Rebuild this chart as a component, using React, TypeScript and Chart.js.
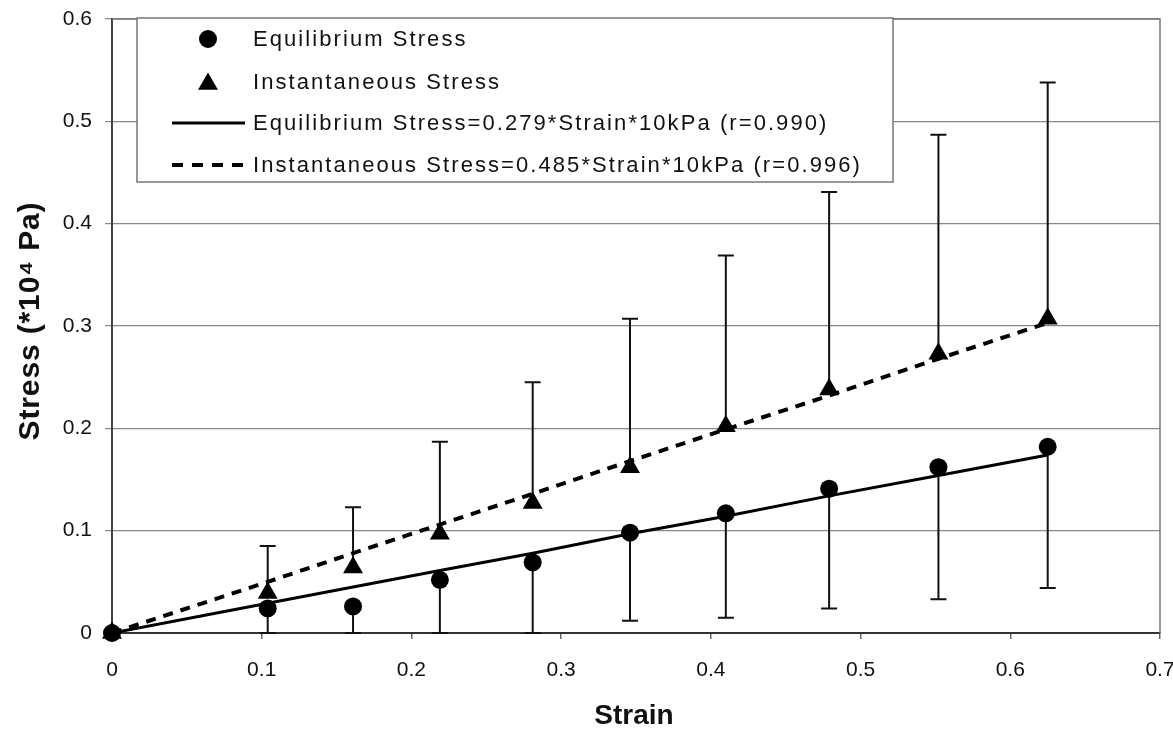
import React, { useEffect, useRef } from "react";
import { Chart, registerables } from "chart.js";

Chart.register(...registerables);

// ---- data ----
const strain = [0, 0.104, 0.161, 0.219, 0.281, 0.346, 0.41, 0.479, 0.552, 0.625];
const equilibriumStress = [0, 0.024, 0.026, 0.052, 0.069, 0.098, 0.117, 0.141, 0.162, 0.182];
const instantaneousStress = [0, 0.039, 0.064, 0.097, 0.127, 0.162, 0.202, 0.238, 0.273, 0.307];
// lower end of equilibrium error bars, upper end of instantaneous error bars
const equilibriumLower = [0, 0, 0, 0, 0, 0.012, 0.015, 0.024, 0.033, 0.044];
const instantaneousUpper = [0, 0.085, 0.123, 0.187, 0.245, 0.307, 0.369, 0.431, 0.487, 0.538];
// fitted regression lines (0.279*strain and 0.485*strain)
const equilibriumFit = [0, 0.029, 0.045, 0.061, 0.078, 0.097, 0.114, 0.134, 0.154, 0.174];
const instantaneousFit = [0, 0.05, 0.078, 0.106, 0.136, 0.168, 0.199, 0.232, 0.268, 0.303];

const xTickValues = [0, 0.1, 0.2, 0.3, 0.4, 0.5, 0.6, 0.7];
const xTickLabels = ["0", "0.1", "0.2", "0.3", "0.4", "0.5", "0.6", "0.7"];
const yTickValues = [0, 0.1, 0.2, 0.3, 0.4, 0.5, 0.6];
const yTickLabels = ["0", "0.1", "0.2", "0.3", "0.4", "0.5", "0.6"];

const seriesLabels = [
  "Equilibrium Stress",
  "Instantaneous Stress",
  "Equilibrium Stress=0.279*Strain*10kPa (r=0.990)",
  "Instantaneous Stress=0.485*Strain*10kPa (r=0.996)",
];
const xTitle = "Strain";
const yTitle = "Stress (*10\u2074 Pa)";

const FONT = '"Liberation Sans", Arial, sans-serif';

function pts(ys: number[]) {
  return strain.map((x, i) => ({ x, y: ys[i] }));
}

function triangle(ctx: CanvasRenderingContext2D, x: number, y: number, r: number) {
  ctx.beginPath();
  let a = 0;
  ctx.moveTo(x + Math.sin(a) * r, y - Math.cos(a) * r);
  a += (2 * Math.PI) / 3;
  ctx.lineTo(x + Math.sin(a) * r, y - Math.cos(a) * r);
  a += (2 * Math.PI) / 3;
  ctx.lineTo(x + Math.sin(a) * r, y - Math.cos(a) * r);
  ctx.closePath();
  ctx.fill();
}

function spacedText(ctx: CanvasRenderingContext2D, text: string, target: number) {
  (ctx as any).letterSpacing = "0px";
  const w0 = ctx.measureText(text).width;
  const sp = Math.max(0, (target - w0) / Math.max(1, text.length - 1));
  (ctx as any).letterSpacing = `${sp.toFixed(2)}px`;
}

const framePlugin = {
  id: "frame",
  beforeDatasetsDraw(chart: any) {
    const { ctx, chartArea: a } = chart;
    ctx.save();
    ctx.strokeStyle = "#777";
    ctx.lineWidth = 1.5;
    ctx.beginPath();
    ctx.moveTo(a.left, a.top);
    ctx.lineTo(a.right, a.top);
    ctx.lineTo(a.right, a.bottom);
    ctx.stroke();
    ctx.restore();
  },
};

const errorBarPlugin = {
  id: "errorBars",
  beforeDatasetsDraw(chart: any) {
    const { ctx, scales } = chart;
    const xs = scales.x;
    const ys = scales.y;
    ctx.save();
    ctx.strokeStyle = "#111";
    ctx.lineWidth = 2;
    const cap = 8;
    const bar = (xv: number, y0: number, y1: number) => {
      const px = xs.getPixelForValue(xv);
      const p0 = ys.getPixelForValue(y0);
      const p1 = ys.getPixelForValue(y1);
      ctx.beginPath();
      ctx.moveTo(px, p0);
      ctx.lineTo(px, p1);
      ctx.moveTo(px - cap, p1);
      ctx.lineTo(px + cap, p1);
      ctx.stroke();
    };
    strain.forEach((xv, i) => {
      if (i === 0) return;
      bar(xv, instantaneousStress[i], instantaneousUpper[i]);
      bar(xv, equilibriumStress[i], equilibriumLower[i]);
    });
    ctx.restore();
  },
};

const legendPlugin = {
  id: "boxLegend",
  afterDraw(chart: any) {
    const { ctx } = chart;
    const left = 137, top = 18, right = 893, bottom = 182;
    const rows = [39, 82, 123, 165];
    const markerX = 208, lineX0 = 172, lineX1 = 245, textX = 253, textRight = 860;
    ctx.save();
    ctx.fillStyle = "#fff";
    ctx.fillRect(left, top, right - left, bottom - top);
    ctx.strokeStyle = "#777";
    ctx.lineWidth = 1.5;
    ctx.strokeRect(left, top, right - left, bottom - top);

    ctx.fillStyle = "#000";
    ctx.beginPath();
    ctx.arc(markerX, rows[0], 9, 0, Math.PI * 2);
    ctx.fill();
    triangle(ctx, markerX, rows[1] + 2, 11.5);

    ctx.strokeStyle = "#000";
    ctx.lineWidth = 3;
    ctx.beginPath();
    ctx.moveTo(lineX0, rows[2]);
    ctx.lineTo(lineX1, rows[2]);
    ctx.stroke();
    ctx.lineWidth = 4;
    ctx.setLineDash([11, 9]);
    ctx.beginPath();
    ctx.moveTo(lineX0, rows[3]);
    ctx.lineTo(lineX1, rows[3]);
    ctx.stroke();
    ctx.setLineDash([]);

    ctx.font = `22px ${FONT}`;
    ctx.textBaseline = "middle";
    ctx.textAlign = "left";
    spacedText(ctx, seriesLabels[3], textRight - textX);
    ctx.fillStyle = "#111";
    seriesLabels.forEach((t, i) => ctx.fillText(t, textX, rows[i] + 1));
    (ctx as any).letterSpacing = "0px";
    ctx.restore();
  },
};

const titlePlugin = {
  id: "axisTitles",
  afterDraw(chart: any) {
    const { ctx } = chart;
    ctx.save();
    ctx.fillStyle = "#111";
    ctx.textAlign = "center";
    ctx.textBaseline = "middle";
    ctx.font = `bold 28px ${FONT}`;
    ctx.fillText(xTitle, 634, 716);
    ctx.translate(31, 321);
    ctx.rotate(-Math.PI / 2);
    ctx.font = `bold 30px ${FONT}`;
    spacedText(ctx, yTitle, 238);
    ctx.fillText(yTitle, 0, 0);
    (ctx as any).letterSpacing = "0px";
    ctx.restore();
  },
};

export default function App() {
  const ref = useRef<HTMLCanvasElement>(null);
  useEffect(() => {
    document.body.style.margin = "0";
    const canvas = ref.current;
    if (!canvas) return;
    const chart = new Chart(canvas, {
      type: "scatter",
      data: {
        datasets: [
          {
            label: seriesLabels[0],
            data: pts(equilibriumStress),
            pointStyle: "circle",
            pointRadius: 9,
            pointHoverRadius: 9,
            backgroundColor: "#000",
            borderColor: "#000",
            borderWidth: 0,
            showLine: false,
            clip: false as any,
            order: 1,
          },
          {
            label: seriesLabels[1],
            data: pts(instantaneousStress),
            pointStyle: "triangle",
            pointRadius: 11.5,
            pointHoverRadius: 11.5,
            backgroundColor: "#000",
            borderColor: "#000",
            borderWidth: 0,
            showLine: false,
            clip: false as any,
            order: 0,
          },
          {
            label: seriesLabels[2],
            data: pts(equilibriumFit),
            showLine: true,
            pointRadius: 0,
            borderColor: "#000",
            borderWidth: 3,
            order: 3,
          },
          {
            label: seriesLabels[3],
            data: pts(instantaneousFit),
            showLine: true,
            pointRadius: 0,
            borderColor: "#000",
            borderWidth: 4,
            borderDash: [10, 8],
            order: 2,
          },
        ],
      },
      options: {
        responsive: false,
        animation: false,
        devicePixelRatio: 1,
        layout: { padding: { top: 19, right: 13, left: 0, bottom: 0 } },
        plugins: {
          legend: { display: false },
          tooltip: { enabled: false },
        },
        scales: {
          x: {
            type: "linear",
            min: 0,
            max: 0.7,
            afterBuildTicks: (s: any) => {
              s.ticks = xTickValues.map((v) => ({ value: v }));
            },
            afterFit: (s: any) => {
              s.height = 729 - 633;
              s.paddingLeft = 0;
              s.paddingRight = 0;
            },
            ticks: {
              callback: (_v: any, i: number) => xTickLabels[i],
              font: { family: FONT, size: 21 },
              color: "#111",
              padding: 19,
              maxRotation: 0,
            },
            grid: {
              drawOnChartArea: false,
              drawTicks: true,
              tickLength: 6,
              color: "#666",
              lineWidth: 1.5,
            },
            border: { display: true, color: "#333", width: 2 },
          },
          y: {
            type: "linear",
            min: 0,
            max: 0.6,
            afterBuildTicks: (s: any) => {
              s.ticks = yTickValues.map((v) => ({ value: v }));
            },
            afterFit: (s: any) => {
              s.width = 112;
              s.paddingTop = 0;
              s.paddingBottom = 0;
            },
            ticks: {
              callback: (_v: any, i: number) => yTickLabels[i],
              font: { family: FONT, size: 21 },
              color: "#111",
              padding: 13,
            },
            grid: {
              color: "#888",
              lineWidth: 1.2,
              drawTicks: true,
              tickLength: 7,
            },
            border: { display: true, color: "#444", width: 2 },
          },
        },
      },
      plugins: [framePlugin, errorBarPlugin, legendPlugin, titlePlugin],
    });
    return () => chart.destroy();
  }, []);
  return (
    <div style={{ width: 1173, height: 729, background: "#fff" }}>
      <canvas ref={ref} width={1173} height={729} style={{ display: "block" }} />
    </div>
  );
}
